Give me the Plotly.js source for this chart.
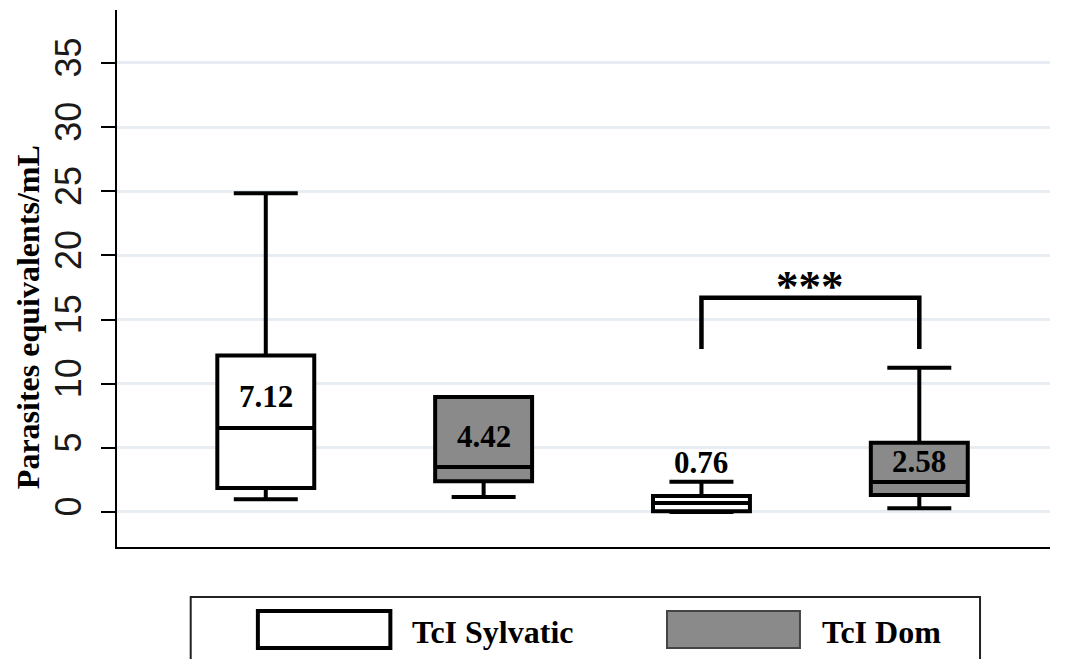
<!DOCTYPE html>
<html>
<head>
<meta charset="utf-8">
<script src="https://cdn.plot.ly/plotly-3.0.1.min.js"></script>
<style>
  html, body { margin: 0; padding: 0; background: #ffffff; }
  #chart { width: 1073px; height: 659px; }
</style>
</head>
<body>
<div id="chart"></div>
<script>
// ---- data ----
var groups = ["TcI Sylvatic", "TcI Dom", "TcI Sylvatic", "TcI Dom"];
var positions = [0, 1, 2, 3];
var lowerWhisker = [1.0, 1.17, 0.0, 0.29];
var q1Values = [1.87, 2.4, 0.05, 1.32];
var medianValues = [6.55, 3.5, 0.7, 2.34];
var q3Values = [12.2, 8.96, 1.25, 5.4];
var upperWhisker = [24.85, 8.96, 2.36, 11.25];
var meanLabels = ["7.12", "4.42", "0.76", "2.58"];
var meanLabelY = [9.0, 5.85, 3.85, 3.9];
var yTickValues = [0, 5, 10, 15, 20, 25, 30, 35];
var yTitle = "Parasites equivalents/mL";
var significance = "***";
var sigPair = [2, 3];
var sigBracketY = [12.7, 16.7];
var legendNames = ["TcI Sylvatic", "TcI Dom"];

var fills = {"TcI Sylvatic": "#ffffff", "TcI Dom": "#8a8a8a"};

function pick(arr, idx) { return idx.map(function (i) { return arr[i]; }); }

var traces = legendNames.map(function (name) {
  var idx = [];
  groups.forEach(function (g, i) { if (g === name) idx.push(i); });
  return {
    type: "box",
    name: name,
    x: pick(positions, idx),
    q1: pick(q1Values, idx),
    median: pick(medianValues, idx),
    q3: pick(q3Values, idx),
    lowerfence: pick(lowerWhisker, idx),
    upperfence: pick(upperWhisker, idx),
    boxpoints: false,
    width: 0.445,
    whiskerwidth: 0.66,
    fillcolor: fills[name],
    line: {color: "#000000", width: 4},
    hoverinfo: "skip",
    showlegend: false
  };
});

var serif = "Liberation Serif, Times New Roman, serif";

var annotations = meanLabels.map(function (t, i) {
  return {
    x: positions[i], y: meanLabelY[i], xref: "x", yref: "y",
    text: "<b>" + t + "</b>", showarrow: false,
    font: {family: serif, size: 31, color: "#000"}
  };
});
annotations.push({
  x: (sigPair[0] + sigPair[1]) / 2, y: sigBracketY[1], xref: "x", yref: "y",
  yanchor: "bottom", yshift: -15,
  text: "<b>" + significance + "</b>", showarrow: false,
  font: {family: serif, size: 45, color: "#000"}
});
// y-axis title (positioned like the reference, slightly below the axis centre)
annotations.push({
  x: -0.0954, y: 0.428, xref: "paper", yref: "paper",
  xanchor: "center", yanchor: "middle", textangle: -90,
  text: "<b>" + yTitle + "</b>", showarrow: false,
  font: {family: serif, size: 32, color: "#000"}
});

// legend drawn in paper coordinates
var legendKeyX = [[0.151, 0.293], [0.5895, 0.732]];
legendNames.forEach(function (name, i) {
  annotations.push({
    x: legendKeyX[i][1] + 0.021, y: -0.158, xref: "paper", yref: "paper",
    xanchor: "left", yanchor: "middle",
    text: "<b>" + name + "</b>", showarrow: false,
    font: {family: serif, size: 32, color: "#000"}
  });
});

var shapes = [
  {
    type: "path", xref: "x", yref: "y",
    path: "M " + sigPair[0] + "," + sigBracketY[0] + " L " + sigPair[0] + "," + sigBracketY[1] +
          " L " + sigPair[1] + "," + sigBracketY[1] + " L " + sigPair[1] + "," + sigBracketY[0],
    line: {color: "#000", width: 4.5}
  },
  {
    type: "rect", xref: "paper", yref: "paper",
    x0: 0.079, x1: 0.925, y0: -0.093, y1: -0.30,
    line: {color: "#222", width: 2}, fillcolor: "rgba(0,0,0,0)"
  },
  {
    type: "rect", xref: "paper", yref: "paper",
    x0: legendKeyX[0][0], x1: legendKeyX[0][1], y0: -0.119, y1: -0.188,
    line: {color: "#000", width: 4}, fillcolor: fills[legendNames[0]]
  },
  {
    type: "rect", xref: "paper", yref: "paper",
    x0: legendKeyX[1][0], x1: legendKeyX[1][1], y0: -0.119, y1: -0.188,
    line: {color: "#444", width: 2}, fillcolor: fills[legendNames[1]]
  }
];

var layout = {
  width: 1073, height: 659,
  margin: {l: 117, r: 23, t: 10, b: 112},
  paper_bgcolor: "#ffffff",
  plot_bgcolor: "#ffffff",
  showlegend: false,
  xaxis: {
    range: [-0.683, 3.6],
    showgrid: false, zeroline: false, showticklabels: false, ticks: "",
    showline: true, linecolor: "#000", linewidth: 2
  },
  yaxis: {
    range: [-2.73, 39.13],
    tickvals: yTickValues,
    ticktext: yTickValues.map(String),
    tickangle: -90,
    ticks: "outside", ticklen: 14, tickwidth: 2, tickcolor: "#000",
    ticklabelstandoff: 6,
    tickfont: {family: "Liberation Sans, Arial, sans-serif", size: 36, color: "#1a1a1a"},
    showgrid: true, gridcolor: "#e8edf3", gridwidth: 3,
    zeroline: false,
    showline: true, linecolor: "#000", linewidth: 2
  },
  annotations: annotations,
  shapes: shapes
};

Plotly.newPlot("chart", traces, layout, {displayModeBar: false, staticPlot: true});
</script>
</body>
</html>
